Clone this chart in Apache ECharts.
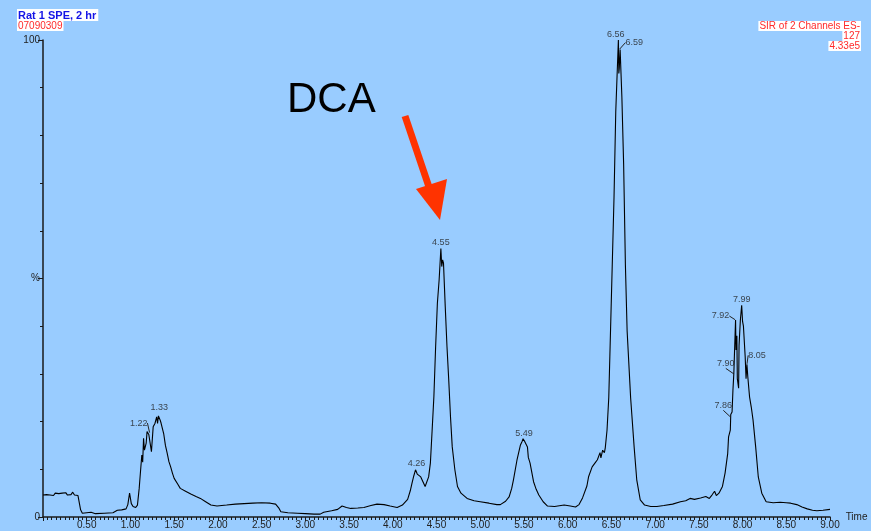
<!DOCTYPE html>
<html>
<head>
<meta charset="utf-8">
<script src="https://cdn.jsdelivr.net/npm/echarts@6/dist/echarts.min.js"></script>
<style>
    html, body { margin: 0; padding: 0; background: #99ccff; }
    #chart { width: 871px; height: 531px; }
</style>
</head>
<body>
<div id="chart"></div>
<script>
// retention time (min) and intensity (%)
const times = [
    0.00, 0.02, 0.04, 0.06, 0.08, 0.10, 0.12, 0.14, 0.16, 0.18, 0.20, 0.22, 0.24, 0.26, 0.28, 0.30,
    0.32, 0.34, 0.36, 0.38, 0.40, 0.42, 0.43, 0.45, 0.50, 0.55, 0.60, 0.70, 0.80, 0.85, 0.90, 0.95,
    0.97, 0.99, 1.01, 1.03, 1.06, 1.08, 1.10, 1.11, 1.13, 1.14, 1.15, 1.16, 1.18, 1.19, 1.21, 1.22,
    1.24, 1.26, 1.28, 1.30, 1.31, 1.32, 1.33, 1.34, 1.35, 1.37, 1.38, 1.40, 1.42, 1.44, 1.46, 1.48,
    1.50, 1.54, 1.57, 1.63, 1.69, 1.75, 1.80, 1.86, 1.92, 1.99, 2.10, 2.20, 2.30, 2.40, 2.50, 2.60,
    2.66, 2.70, 2.72, 2.80, 2.91, 3.00, 3.10, 3.17, 3.21, 3.30, 3.37, 3.42, 3.47, 3.52, 3.60, 3.67,
    3.75, 3.82, 3.90, 3.97, 4.05, 4.11, 4.17, 4.20, 4.22, 4.24, 4.26, 4.28, 4.30, 4.32, 4.34, 4.37,
    4.39, 4.41, 4.43, 4.45, 4.47, 4.49, 4.51, 4.53, 4.55, 4.56, 4.57, 4.58, 4.60, 4.62, 4.64, 4.66,
    4.68, 4.71, 4.74, 4.78, 4.85, 4.93, 5.00, 5.10, 5.19, 5.23, 5.29, 5.33, 5.36, 5.38, 5.42, 5.46,
    5.48, 5.49, 5.51, 5.54, 5.55, 5.57, 5.61, 5.64, 5.67, 5.72, 5.77, 5.85, 5.96, 6.03, 6.09, 6.13,
    6.17, 6.22, 6.24, 6.28, 6.32, 6.34, 6.37, 6.38, 6.40, 6.42, 6.43, 6.45, 6.47, 6.49, 6.51, 6.53,
    6.55, 6.57, 6.58, 6.585, 6.59, 6.60, 6.61, 6.62, 6.64, 6.66, 6.68, 6.72, 6.76, 6.79, 6.83, 6.88,
    6.95, 7.02, 7.10, 7.20, 7.29, 7.35, 7.40, 7.45, 7.52, 7.58, 7.62, 7.65, 7.67, 7.68, 7.70, 7.73,
    7.77, 7.80, 7.83, 7.84, 7.86, 7.865, 7.88, 7.89, 7.90, 7.91, 7.92, 7.925, 7.935, 7.94, 7.955, 7.96,
    7.975, 7.99, 8.00, 8.01, 8.03, 8.04, 8.05, 8.06, 8.08, 8.10, 8.12, 8.15, 8.18, 8.22, 8.27, 8.35,
    8.43, 8.50, 8.55, 8.62, 8.68, 8.74, 8.80, 8.85, 8.92, 9.00
];
const intensity = [
    4.6, 5.0, 4.7, 5.1, 4.6, 4.9, 4.5, 5.0, 4.7, 4.9, 4.6, 5.0, 4.8, 5.1, 4.6, 4.9,
    4.7, 5.2, 4.6, 4.9, 4.5, 4.4, 1.5, 0.8, 0.9, 1.0, 0.7, 0.8, 0.9, 1.4, 1.5, 1.7,
    2.6, 5.0, 2.8, 2.2, 2.0, 2.5, 6.0, 8.4, 13.0, 11.5, 16.5, 14.0, 15.5, 17.9, 17.3, 17.6,
    13.7, 18.9, 19.6, 21.0, 19.6, 21.2, 21.6, 20.3, 19.7, 20.0, 17.5, 15.0, 13.4, 11.6, 10.5, 9.2,
    8.1, 6.9, 6.0, 5.4, 4.8, 4.3, 3.9, 3.2, 2.5, 2.3, 2.5, 2.7, 2.8, 2.9, 3.0, 2.9,
    2.7, 1.8, 1.1, 0.9, 0.8, 0.7, 0.6, 0.6, 1.0, 1.3, 1.6, 2.3, 2.0, 1.8, 1.9, 2.0,
    2.4, 2.7, 2.6, 2.3, 2.0, 2.5, 3.7, 5.5, 7.1, 8.6, 9.9, 9.0, 9.2, 8.4, 8.1, 6.4,
    6.8, 8.4, 11.3, 18.2, 25.2, 35.7, 44.8, 49.7, 56.3, 52.5, 53.9, 53.2, 44.1, 35.7, 28.7, 21.0,
    14.7, 9.9, 6.4, 5.0, 3.9, 3.4, 3.2, 2.9, 2.6, 2.6, 3.3, 4.2, 6.0, 7.8, 11.9, 15.1,
    15.9, 16.4, 15.8, 14.7, 12.5, 11.3, 7.4, 5.8, 4.6, 3.2, 2.3, 2.2, 2.5, 2.3, 2.1, 2.6,
    4.0, 6.5, 8.5, 10.5, 11.5, 12.0, 13.5, 12.4, 14.0, 13.5, 14.5, 18.2, 25.0, 39.0, 53.0, 67.0,
    85.0, 95.0, 100.0, 93.0, 94.0, 98.0, 93.0, 88.0, 74.0, 53.0, 39.0, 25.0, 14.7, 7.8, 3.6, 2.5,
    2.2, 2.2, 2.4, 2.7, 3.2, 3.4, 3.9, 3.7, 4.0, 4.3, 3.9, 4.6, 4.3, 5.4, 4.5, 5.0,
    6.4, 9.2, 13.3, 16.8, 18.2, 21.5, 22.0, 26.6, 30.0, 35.7, 41.3, 35.0, 38.0, 29.0, 27.0, 36.0,
    41.3, 44.4, 41.0, 40.0, 33.6, 29.0, 32.0, 29.4, 25.2, 23.0, 20.3, 14.7, 8.4, 5.0, 3.2, 3.0,
    3.1, 3.0, 2.9, 2.6, 2.1, 1.7, 1.4, 1.3, 1.4, 1.6
];

// peak annotations (retention time, height)
const peakTimes = [1.22, 1.33, 4.26, 4.55, 5.49, 6.56, 6.59, 7.92, 7.99, 7.90, 8.05, 7.86];
const peakHeights = [17.6, 21.6, 9.9, 56.3, 16.4, 100.0, 98.0, 41.3, 44.4, 30.0, 32.0, 21.0];

// label offsets from the peak point, in px
const labelOffsets = [[-11, -10], [0, -6], [1, -6], [0, -6], [1, -5], [-1, -5], [15, -7],
    [-15, -4], [0, -6], [-8, -10], [10, -9], [-7, -11]];
const hasLeader = [true, false, false, false, false, false, true, true, false, true, true, true];

const xTickStep = 0.5;

document.addEventListener("DOMContentLoaded", function () {
    const chart = echarts.init(document.querySelector("#chart"));
    const font = "Arial, 'Liberation Sans', sans-serif";

    let trace = times.map((t, i) => [t, intensity[i]]);
    let peaks = peakTimes.map((t, i) => ({
        value: [t, peakHeights[i]],
        labelLine: { show: hasLeader[i] }
    }));

    // red header boxes on the right
    let redText = (text, pos) => Object.assign({
        text: text, padding: [0, 1, 0, 1],
        backgroundColor: "#ffffff",
        textStyle: { color: "#ff2a2a", fontSize: 10, fontWeight: "normal", fontFamily: font }
    }, pos);

    let option = {
        backgroundColor: "#99ccff",
        animation: false,
        title: [
            {
                text: "Rat 1 SPE, 2 hr", left: 17, top: 9, padding: [1, 2, 0, 1],
                backgroundColor: "#ffffff",
                textStyle: { color: "#1414e6", fontSize: 11, fontWeight: "bold", fontFamily: font }
            },
            redText("07090309", { left: 17, top: 21 }),
            redText("SIR of 2 Channels ES-", { right: 10, top: 21 }),
            redText("127", { right: 10, top: 31 }),
            redText("4.33e5", { right: 10, top: 41 })
        ],
        grid: { left: 43, right: 41, top: 40, bottom: 14 },
        xAxis: {
            type: "value",
            min: 0,
            max: 9,
            interval: xTickStep,
            name: "Time",
            nameLocation: "end",
            nameGap: 6,
            nameTextStyle: { color: "#222", fontSize: 10, fontFamily: font },
            axisLine: { lineStyle: { color: "#1a1a1a", width: 1.5 } },
            axisTick: { show: true, length: 4, lineStyle: { color: "#1a1a1a" } },
            minorTick: { show: true, splitNumber: 10, length: 3, lineStyle: { color: "#1a1a1a" } },
            splitLine: { show: false },
            axisLabel: {
                color: "#222", fontSize: 10, fontFamily: font, margin: 3,
                formatter: v => (v === 0 ? "" : v.toFixed(2))
            }
        },
        yAxis: {
            type: "value",
            min: 0,
            max: 100,
            interval: 50,
            axisLine: { show: true, lineStyle: { color: "#1a1a1a", width: 1.5 } },
            axisTick: { show: true, length: 5, lineStyle: { color: "#1a1a1a" } },
            minorTick: { show: true, splitNumber: 5, length: 3, lineStyle: { color: "#1a1a1a" } },
            splitLine: { show: false },
            axisLabel: {
                color: "#222", fontSize: 10, fontFamily: font, margin: 3,
                formatter: v => (v === 50 ? "%" : String(v))
            }
        },
        series: [
            {
                type: "line",
                data: trace,
                showSymbol: false,
                clip: false,
                lineStyle: { color: "#000000", width: 1.1 }
            },
            {
                type: "scatter",
                data: peaks,
                symbolSize: 1,
                itemStyle: { color: "rgba(0,0,0,0)" },
                silent: true,
                label: {
                    show: true,
                    position: "inside",
                    color: "#222",
                    fontSize: 9,
                    fontFamily: font,
                    formatter: p => p.value[0].toFixed(2)
                },
                labelLine: { show: false, lineStyle: { color: "#222", width: 1 } },
                labelLayout: function (params) {
                    const o = labelOffsets[params.dataIndex];
                    return { dx: o[0], dy: o[1] };
                }
            }
        ],
        graphic: [
            {
                type: "text",
                left: 287,
                top: 79,
                style: { text: "DCA", fill: "#000000", fontSize: 42, fontFamily: font }
            },
            {
                type: "line",
                shape: { x1: 405, y1: 116, x2: 430, y2: 190 },
                style: { stroke: "#ff3300", lineWidth: 7 }
            },
            {
                type: "polygon",
                shape: { points: [[416, 189], [447, 179], [440, 220]] },
                style: { fill: "#ff3300" }
            }
        ]
    };

    chart.setOption(option);
});
</script>
</body>
</html>
